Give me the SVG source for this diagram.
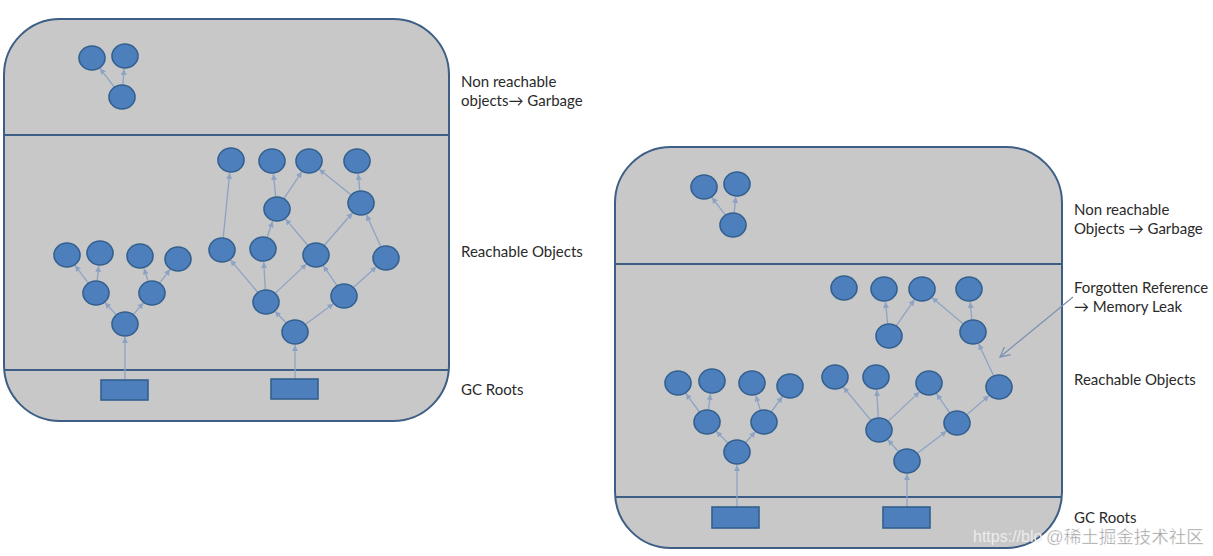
<svg xmlns="http://www.w3.org/2000/svg" width="1213" height="556" viewBox="0 0 1213 556">
<style>
.panel{fill:#c8c8c8;stroke:#3e5f85;stroke-width:2}
.div{stroke:#3e5f85;stroke-width:2}
.n{fill:#4c7fbc;stroke:#34608f;stroke-width:1.6}
.r{fill:#4c7fbc;stroke:#34608f;stroke-width:1.6}
.e{stroke:#8ea3c4;stroke-width:1.3;fill:none;marker-end:url(#ah)}
.lbl{font-family:Lato,"Liberation Sans",sans-serif;font-size:15px;fill:#2a2a2a}
.wm{font-family:"Liberation Sans","Noto Sans CJK SC",sans-serif}
</style>
<defs>
<marker id="ah" markerWidth="7" markerHeight="7" refX="6" refY="3.5" orient="auto" markerUnits="userSpaceOnUse">
<path d="M0,0.5 L6,3.5 L0,6.5 Z" fill="#8ea3c4"/>
</marker>
<marker id="oa" markerWidth="12" markerHeight="12" refX="10" refY="6" orient="auto" markerUnits="userSpaceOnUse">
<path d="M0,1 L10,6 L0,11" fill="none" stroke="#7f93b3" stroke-width="1.3"/>
</marker>
</defs>
<rect width="1213" height="556" fill="#ffffff"/>

<g id="panel-left">
<rect class="panel" x="4" y="19" width="445" height="402" rx="56" ry="56"/>
<line class="div" x1="4" y1="135" x2="449" y2="135"/>
<line class="div" x1="4" y1="370" x2="449" y2="370"/>
</g>
<g id="panel-right">
<rect class="panel" x="615" y="147" width="447" height="401" rx="56" ry="56"/>
<line class="div" x1="615" y1="264" x2="1062" y2="264"/>
<line class="div" x1="615" y1="497" x2="1062" y2="497"/>
</g>

<g id="connectors">
<line class="e" x1="114.4" y1="87.1" x2="99.9" y2="68.3"/>
<line class="e" x1="122.9" y1="84.5" x2="124.1" y2="69"/>
<line class="e" x1="125" y1="380" x2="125" y2="337"/>
<line class="e" x1="116.4" y1="314.9" x2="104.9" y2="302.5"/>
<line class="e" x1="133.2" y1="314.6" x2="143.5" y2="302.8"/>
<line class="e" x1="88.4" y1="283.1" x2="74.9" y2="265.3"/>
<line class="e" x1="97.2" y1="280.6" x2="98.7" y2="265.9"/>
<line class="e" x1="148.1" y1="281.1" x2="144" y2="268.4"/>
<line class="e" x1="159.6" y1="283.1" x2="170.1" y2="269.3"/>
<line class="e" x1="295" y1="379" x2="295" y2="345"/>
<line class="e" x1="286.3" y1="323" x2="275" y2="311.3"/>
<line class="e" x1="305.1" y1="324.6" x2="333.5" y2="303.7"/>
<line class="e" x1="257.9" y1="292.5" x2="230.4" y2="259.9"/>
<line class="e" x1="265.3" y1="289.5" x2="263.7" y2="262"/>
<line class="e" x1="275.1" y1="293.4" x2="306.5" y2="263.9"/>
<line class="e" x1="337" y1="285.7" x2="323.3" y2="265.7"/>
<line class="e" x1="353.3" y1="287.6" x2="376.4" y2="266.7"/>
<line class="e" x1="223.2" y1="237.6" x2="229.7" y2="172.9"/>
<line class="e" x1="267.1" y1="237.2" x2="272.7" y2="221.3"/>
<line class="e" x1="307.9" y1="245.5" x2="285.4" y2="218.9"/>
<line class="e" x1="324.2" y1="245.5" x2="352.5" y2="212.8"/>
<line class="e" x1="380.8" y1="246.6" x2="366.4" y2="214.8"/>
<line class="e" x1="275.7" y1="196.6" x2="273.4" y2="173.9"/>
<line class="e" x1="283.9" y1="198.6" x2="301.8" y2="171.8"/>
<line class="e" x1="351.3" y1="195.1" x2="319.1" y2="169.2"/>
<line class="e" x1="359.8" y1="190.6" x2="358.2" y2="173.9"/>

<line class="e" x1="725.4" y1="215.1" x2="711.9" y2="197.3"/>
<line class="e" x1="734.2" y1="212.6" x2="735.7" y2="196.9"/>
<line class="e" x1="737" y1="507" x2="737" y2="465"/>
<line class="e" x1="728.2" y1="443.2" x2="716.2" y2="431.2"/>
<line class="e" x1="745.4" y1="442.7" x2="755.3" y2="431.7"/>
<line class="e" x1="699.5" y1="412" x2="685.8" y2="393.4"/>
<line class="e" x1="708.5" y1="409.6" x2="710.4" y2="393.9"/>
<line class="e" x1="760.3" y1="410" x2="755.8" y2="395.4"/>
<line class="e" x1="771.3" y1="411.9" x2="782.4" y2="396.5"/>
<line class="e" x1="907" y1="507" x2="907" y2="474"/>
<line class="e" x1="898.6" y1="451.7" x2="887.7" y2="439.6"/>
<line class="e" x1="917" y1="453.4" x2="946.7" y2="430.9"/>
<line class="e" x1="871" y1="420.4" x2="843.3" y2="387"/>
<line class="e" x1="878.3" y1="417.5" x2="876.7" y2="390"/>
<line class="e" x1="888.1" y1="421.4" x2="919.5" y2="391.9"/>
<line class="e" x1="949.8" y1="412.8" x2="936.5" y2="393.7"/>
<line class="e" x1="966.5" y1="414.9" x2="989.1" y2="395.5"/>
<line class="e" x1="993.6" y1="375.7" x2="978.6" y2="343.8"/>
<line class="e" x1="963.4" y1="323.9" x2="931.9" y2="297.4"/>
<line class="e" x1="971.8" y1="319.5" x2="970.2" y2="302"/>
<line class="e" x1="887.7" y1="323.6" x2="885.4" y2="301.9"/>
<line class="e" x1="896.2" y1="325.8" x2="914.5" y2="299.6"/>
<line x1="1073" y1="297" x2="1000" y2="357" stroke="#7f93b3" stroke-width="1.3" marker-end="url(#oa)"/>
</g>

<g id="left-nodes">
<ellipse id="lg1" class="n" cx="92" cy="58" rx="13" ry="12"/>
<ellipse id="lg2" class="n" cx="125" cy="56" rx="13" ry="12"/>
<ellipse id="lg3" class="n" cx="122" cy="97" rx="13" ry="12"/>
<ellipse id="la1" class="n" cx="67" cy="255" rx="13" ry="12"/>
<ellipse id="la2" class="n" cx="100" cy="253" rx="13" ry="12"/>
<ellipse id="la3" class="n" cx="140" cy="256" rx="13" ry="12"/>
<ellipse id="la4" class="n" cx="178" cy="259" rx="13" ry="12"/>
<ellipse id="la5" class="n" cx="96" cy="293" rx="13" ry="12"/>
<ellipse id="la6" class="n" cx="152" cy="293" rx="13" ry="12"/>
<ellipse id="la7" class="n" cx="125" cy="324" rx="13" ry="12"/>
<rect id="lr1" class="r" x="101" y="380" width="47" height="20"/>
<ellipse id="lb1" class="n" cx="231" cy="160" rx="13" ry="12"/>
<ellipse id="lb2" class="n" cx="272" cy="161" rx="13" ry="12"/>
<ellipse id="lb3" class="n" cx="309" cy="161" rx="13" ry="12"/>
<ellipse id="lb4" class="n" cx="357" cy="161" rx="13" ry="12"/>
<ellipse id="lb5" class="n" cx="277" cy="209" rx="13" ry="12"/>
<ellipse id="lb6" class="n" cx="361" cy="203" rx="13" ry="12"/>
<ellipse id="lb7" class="n" cx="222" cy="250" rx="13" ry="12"/>
<ellipse id="lb8" class="n" cx="263" cy="249" rx="13" ry="12"/>
<ellipse id="lb9" class="n" cx="316" cy="255" rx="13" ry="12"/>
<ellipse id="lb10" class="n" cx="386" cy="258" rx="13" ry="12"/>
<ellipse id="lb11" class="n" cx="266" cy="302" rx="13" ry="12"/>
<ellipse id="lb12" class="n" cx="344" cy="296" rx="13" ry="12"/>
<ellipse id="lb13" class="n" cx="295" cy="332" rx="13" ry="12"/>
<rect id="lr2" class="r" x="271" y="379" width="47" height="20"/>
</g>

<g id="right-nodes">
<ellipse id="rg1" class="n" cx="704" cy="187" rx="13" ry="12"/>
<ellipse id="rg2" class="n" cx="737" cy="184" rx="13" ry="12"/>
<ellipse id="rg3" class="n" cx="733" cy="225" rx="13" ry="12"/>
<ellipse id="ra1" class="n" cx="678" cy="383" rx="13" ry="12"/>
<ellipse id="ra2" class="n" cx="712" cy="381" rx="13" ry="12"/>
<ellipse id="ra3" class="n" cx="752" cy="383" rx="13" ry="12"/>
<ellipse id="ra4" class="n" cx="790" cy="386" rx="13" ry="12"/>
<ellipse id="ra5" class="n" cx="707" cy="422" rx="13" ry="12"/>
<ellipse id="ra6" class="n" cx="764" cy="422" rx="13" ry="12"/>
<ellipse id="ra7" class="n" cx="737" cy="452" rx="13" ry="12"/>
<rect id="rr1" class="r" x="712" y="507" width="47" height="21"/>
<ellipse id="rb1" class="n" cx="844" cy="288" rx="13" ry="12"/>
<ellipse id="rb2" class="n" cx="884" cy="289" rx="13" ry="12"/>
<ellipse id="rb3" class="n" cx="922" cy="289" rx="13" ry="12"/>
<ellipse id="rb4" class="n" cx="969" cy="289" rx="13" ry="12"/>
<ellipse id="rb5" class="n" cx="889" cy="336" rx="13" ry="12"/>
<ellipse id="rb6" class="n" cx="973" cy="332" rx="13" ry="12"/>
<ellipse id="rb7" class="n" cx="835" cy="377" rx="13" ry="12"/>
<ellipse id="rb8" class="n" cx="876" cy="377" rx="13" ry="12"/>
<ellipse id="rb9" class="n" cx="929" cy="383" rx="13" ry="12"/>
<ellipse id="rb10" class="n" cx="999" cy="387" rx="13" ry="12"/>
<ellipse id="rb11" class="n" cx="879" cy="430" rx="13" ry="12"/>
<ellipse id="rb12" class="n" cx="957" cy="423" rx="13" ry="12"/>
<ellipse id="rb13" class="n" cx="907" cy="461" rx="13" ry="12"/>
<rect id="rr2" class="r" x="883" y="507" width="47" height="21"/>
</g>

<g id="labels">
<text class="lbl" x="461" y="87">Non reachable</text>
<text class="lbl" x="461" y="106">objects→ Garbage</text>
<text class="lbl" x="461" y="257">Reachable Objects</text>
<text class="lbl" x="461" y="395">GC Roots</text>
<text class="lbl" x="1074" y="215">Non reachable</text>
<text class="lbl" x="1074" y="234">Objects → Garbage</text>
<text class="lbl" x="1074" y="293">Forgotten Reference</text>
<text class="lbl" x="1074" y="312">→ Memory Leak</text>
<text class="lbl" x="1074" y="385">Reachable Objects</text>
<text class="lbl" x="1074" y="523">GC Roots</text>
</g>
<g id="watermark">
<text class="wm" x="973" y="542" font-size="16" fill="#ececec">https://blo</text>
<text class="wm" x="1046" y="543" font-size="17.5" fill="#9a9a9a" stroke="#ffffff" stroke-width="0.4">@稀土掘金技术社区</text>
</g>
</svg>
